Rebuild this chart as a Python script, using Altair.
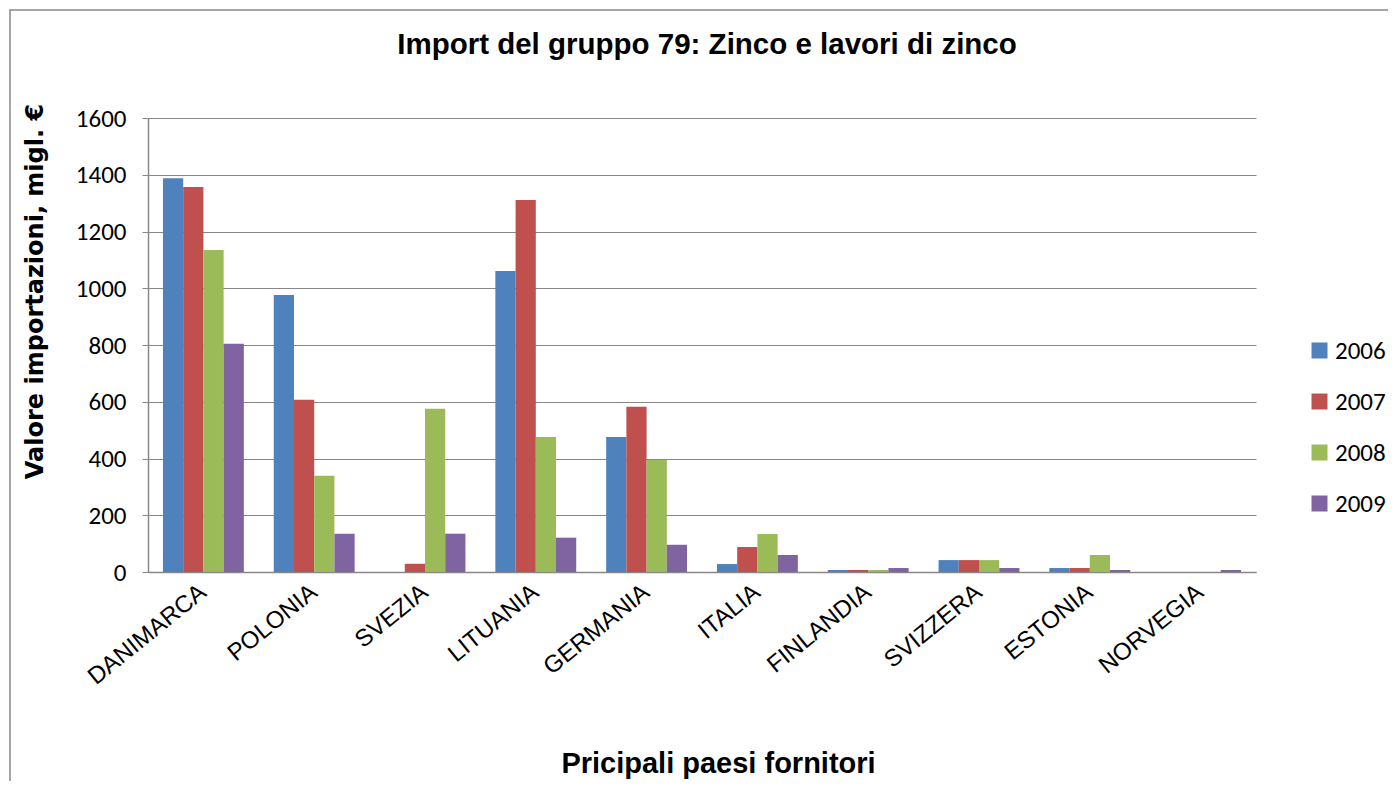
import altair as alt
import pandas as pd

countries = ["DANIMARCA", "POLONIA", "SVEZIA", "LITUANIA", "GERMANIA",
             "ITALIA", "FINLANDIA", "SVIZZERA", "ESTONIA", "NORVEGIA"]
years = ["2006", "2007", "2008", "2009"]
v2006 = [1388, 976, 0, 1061, 476, 28, 7, 42, 14, 0]
v2007 = [1357, 607, 29, 1311, 582, 88, 7, 42, 14, 0]
v2008 = [1135, 339, 575, 476, 395, 134, 7, 42, 60, 0]
v2009 = [804, 135, 135, 121, 96, 60, 14, 14, 7, 7]
colors = ["#4F81BD", "#C0504D", "#9BBB59", "#8064A2"]
title_text = ["Import del gruppo 79: Zinco e lavori di zinco"]

rows = []
for y, vals in zip(years, [v2006, v2007, v2008, v2009]):
    for c, v in zip(countries, vals):
        rows.append({"paese": c, "anno": y, "valore": v})
df = pd.DataFrame(rows)

narrow = "Liberation Sans Narrow, Arial Narrow, Liberation Sans, sans-serif"
calibri = "Carlito, Lato, Open Sans, sans-serif"

bars = alt.Chart(df).mark_bar().encode(
    x=alt.X("paese:N", sort=countries,
            scale=alt.Scale(paddingInner=0.27, paddingOuter=0.135),
            axis=alt.Axis(title="Pricipali paesi fornitori", labelAngle=-39,
                          labelAlign="right", labelBaseline="middle",
                          labelFont="Liberation Sans", labelFontSize=24,
                          labelColor="#000", labelPadding=17, ticks=False,
                          domainColor="#888", domainWidth=1.5,
                          titleFont=narrow, titleFontSize=29, titleFontWeight="bold",
                          titleColor="#000", titlePadding=61, titleX=570)),
    xOffset=alt.XOffset("anno:N", sort=years),
    y=alt.Y("valore:Q", scale=alt.Scale(domain=[0, 1600]),
            axis=alt.Axis(title="Valore importazioni, migl. €", values=list(range(0, 1601, 200)),
                          format="d",
                          labelFont=calibri, labelFontSize=25, labelColor="#000",
                          labelPadding=16, tickSize=6, tickColor="#888",
                          domainColor="#888", domainWidth=1.5,
                          gridColor="#888", gridWidth=1.2,
                          titleFont="DejaVu Sans", titleFontSize=24, titleFontWeight="bold",
                          titleColor="#000", titlePadding=28, titleY=173)),
    color=alt.Color("anno:N", sort=years,
                    scale=alt.Scale(domain=years, range=colors),
                    legend=alt.Legend(title=None, orient="none", legendX=1159, legendY=220,
                                      symbolType="square", symbolSize=256,
                                      symbolStrokeWidth=0,
                                      labelFont=calibri, labelFontSize=25, labelColor="#000",
                                      rowPadding=25, labelOffset=3)),
)

border = alt.Chart(pd.DataFrame({"a": [0]})).mark_rect(
    fill=None, stroke="#888", strokeWidth=1.5, clip=False
).encode(x=alt.value(-138), x2=alt.value(1260), y=alt.value(-108), y2=alt.value(700))

title = alt.Chart(pd.DataFrame({"t": title_text})).mark_text(
    font=narrow, fontSize=29.5, fontWeight="bold", color="#000",
    align="center", baseline="middle", clip=False
).encode(text="t:N", x=alt.value(559), y=alt.value(-73))

chart = alt.layer(border, bars, title).properties(
    width=1108, height=454,
    padding={"left": 140, "top": 110, "right": 132, "bottom": 209},
    autosize=alt.AutoSizeParams(type="none"),
).configure_view(stroke=None)

chart.save("out.html", embed_options={"renderer": "svg", "actions": False})
